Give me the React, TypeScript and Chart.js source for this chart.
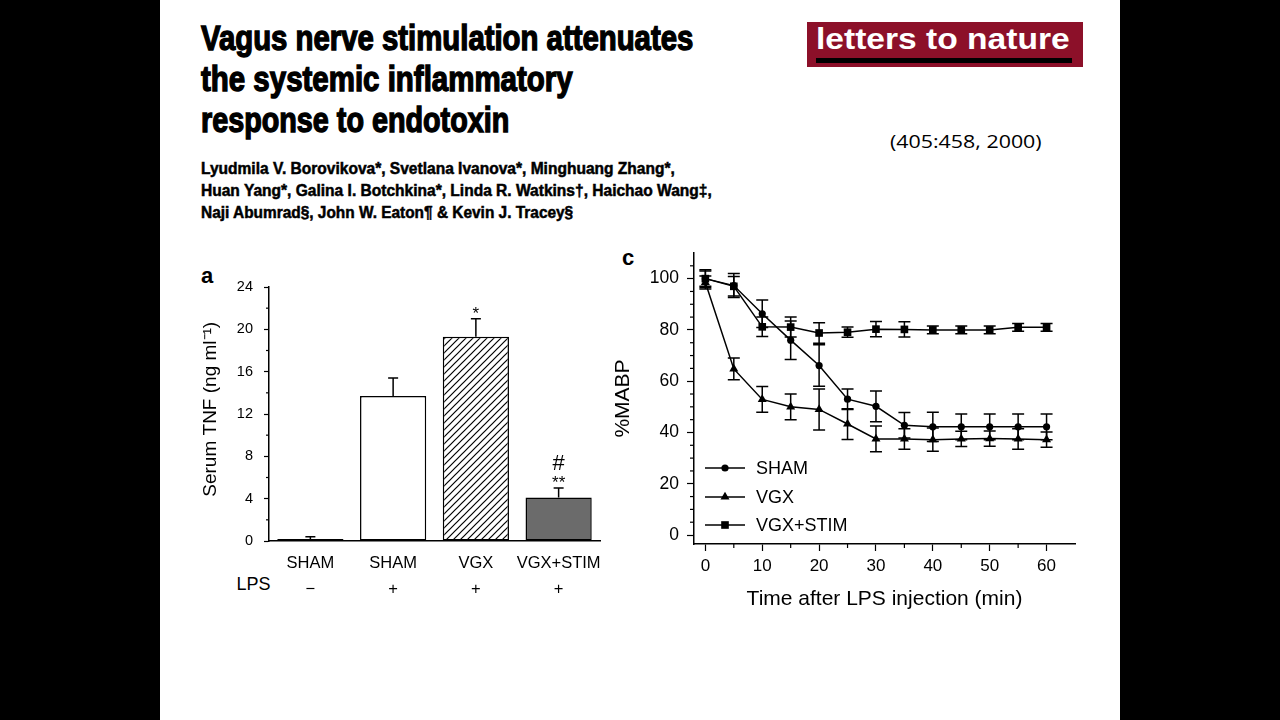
import React, { useEffect, useLayoutEffect, useRef, useState } from 'react';
import { Chart, registerables } from 'chart.js';

Chart.register(...registerables);

// ---------- Panel a : serum TNF ----------
const barCategories = ['SHAM', 'SHAM', 'VGX', 'VGX+STIM'];
const lpsSigns = ['\u2212', '+', '+', '+'];
const tnfMeans = [0.2, 13.7, 19.3, 4.1];
const tnfErrors = [0.2, 1.7, 1.7, 0.9];
const tnfStars = ['', '', '*', '**'];
const tnfHashes = ['', '', '', '#'];
const tnfMajorTicks = [0, 4, 8, 12, 16, 20, 24];
const tnfMinorTicks = [2, 6, 10, 14, 18, 22];

// ---------- Panel c : %MABP ----------
const timePoints = [0, 5, 10, 15, 20, 25, 30, 35, 40, 45, 50, 55, 60];
const shamMabp = [100, 97.3, 86.3, 76.0, 66.1, 53.0, 50.2, 42.8, 42.2, 42.2, 42.2, 42.2, 42.2];
const shamSem = [3.5, 4.7, 5.4, 7.5, 8.1, 4.0, 6.0, 5.0, 5.7, 5.0, 5.0, 5.0, 5.0];
const vgxMabp = [98.5, 64.8, 52.9, 50.0, 49.0, 43.3, 37.5, 37.5, 37.2, 37.5, 37.6, 37.5, 37.2];
const vgxSem = [2.5, 4.2, 5.0, 5.0, 8.0, 6.0, 5.0, 4.0, 4.5, 3.0, 3.0, 4.0, 3.0];
const stimMabp = [100, 97.0, 81.2, 81.1, 78.8, 79.1, 80.3, 80.2, 80.0, 80.0, 80.0, 81.0, 81.0];
const stimSem = [3.0, 3.8, 3.8, 3.9, 4.0, 2.0, 3.0, 3.0, 1.5, 1.5, 1.5, 1.5, 1.5];
const seriesLabels = ['SHAM', 'VGX', 'VGX+STIM'];
const mabpMajorTicks = [0, 20, 40, 60, 80, 100];
const mabpMinorTicks = [5, 10, 15, 25, 30, 35, 45, 50, 55, 65, 70, 75, 85, 90, 95, 105];
const timeMajorTicks = [0, 10, 20, 30, 40, 50, 60];
const timeMinorTicks = [5, 15, 25, 35, 45, 55];

// ---------- header texts ----------
const titleLines = [
  'Vagus nerve stimulation attenuates',
  'the systemic inflammatory',
  'response to endotoxin',
];
const authorLines = [
  'Lyudmila V. Borovikova*, Svetlana Ivanova*, Minghuang Zhang*,',
  'Huan Yang*, Galina I. Botchkina*, Linda R. Watkins\u2020, Haichao Wang\u2021,',
  'Naji Abumrad\u00a7, John W. Eaton\u00b6 & Kevin J. Tracey\u00a7',
];
const journalName = 'letters to nature';
const citation = '(405:458, 2000)';

const SANS = '"Liberation Sans", Arial, Helvetica, sans-serif';

function FitText(props: { text: string; left: number; top: number; width: number; style: React.CSSProperties }) {
  const ref = useRef<HTMLSpanElement>(null);
  const [scale, setScale] = useState(1);
  useLayoutEffect(() => {
    const el = ref.current;
    if (!el) return;
    const w = el.offsetWidth;
    if (w > 0) setScale(props.width / w);
  }, [props.text, props.width]);
  return (
    <span
      ref={ref}
      style={{
        position: 'absolute',
        left: props.left,
        top: props.top,
        whiteSpace: 'pre',
        display: 'inline-block',
        lineHeight: 1,
        transformOrigin: '0 0',
        transform: `scaleX(${scale})`,
        ...props.style,
      }}
    >
      {props.text}
    </span>
  );
}

function makeMinorTicks(cfg: { axis: string; values: number[]; length: number }[]) {
  return {
    id: 'minorTicks',
    afterDraw(chart: any) {
      const ctx = chart.ctx;
      ctx.save();
      ctx.strokeStyle = '#000';
      ctx.lineWidth = 1.2;
      for (const c of cfg) {
        const s = chart.scales[c.axis];
        for (const v of c.values) {
          if (v < s.min || v > s.max) continue;
          const p = s.getPixelForValue(v);
          ctx.beginPath();
          if (s.isHorizontal()) {
            ctx.moveTo(p, s.top);
            ctx.lineTo(p, s.top + c.length);
          } else {
            ctx.moveTo(s.right, p);
            ctx.lineTo(s.right - c.length, p);
          }
          ctx.stroke();
        }
      }
      ctx.restore();
    },
  };
}

function makeHatch(ctx: CanvasRenderingContext2D) {
  const pc = document.createElement('canvas');
  const n = 7;
  pc.width = n;
  pc.height = n;
  const p = pc.getContext('2d')!;
  p.fillStyle = '#fff';
  p.fillRect(0, 0, n, n);
  p.strokeStyle = '#000';
  p.lineWidth = 1.2;
  p.beginPath();
  p.moveTo(0, n);
  p.lineTo(n, 0);
  p.moveTo(-1, 1);
  p.lineTo(1, -1);
  p.moveTo(n - 1, n + 1);
  p.lineTo(n + 1, n - 1);
  p.stroke();
  return ctx.createPattern(pc, 'repeat');
}

const barExtras = {
  id: 'barExtras',
  afterDatasetsDraw(chart: any) {
    const ctx = chart.ctx;
    const y = chart.scales.y;
    const meta = chart.getDatasetMeta(0);
    ctx.save();
    ctx.strokeStyle = '#000';
    ctx.fillStyle = '#000';
    ctx.lineWidth = 1.5;
    meta.data.forEach((bar: any, i: number) => {
      const x = bar.x;
      const top = y.getPixelForValue(tnfMeans[i]);
      const errTop = y.getPixelForValue(tnfMeans[i] + tnfErrors[i]);
      ctx.beginPath();
      ctx.moveTo(x, top);
      ctx.lineTo(x, errTop);
      ctx.moveTo(x - 5, errTop);
      ctx.lineTo(x + 5, errTop);
      ctx.stroke();
      ctx.textAlign = 'center';
      ctx.textBaseline = 'alphabetic';
      if (tnfStars[i]) {
        ctx.font = `17px ${SANS}`;
        ctx.fillText(tnfStars[i], x, errTop - 10 + 0.575 * 17);
      }
      if (tnfHashes[i]) {
        ctx.font = `22px ${SANS}`;
        ctx.fillText(tnfHashes[i], x, errTop - 26 + 0.355 * 22);
      }
    });
    ctx.restore();
  },
};

function BarPanel() {
  const ref = useRef<HTMLCanvasElement>(null);
  useEffect(() => {
    const canvas = ref.current!;
    const ctx = canvas.getContext('2d')!;
    const hatch = makeHatch(ctx);
    const chart = new Chart(canvas, {
      type: 'bar',
      data: {
        labels: barCategories.map((c, i) => [c, lpsSigns[i]]),
        datasets: [
          {
            data: tnfMeans,
            backgroundColor: ['#000000', '#ffffff', hatch as any, '#6b6b6b'],
            borderColor: '#000',
            borderWidth: 1.5,
            borderSkipped: false,
            barPercentage: 0.8,
            categoryPercentage: 1,
          },
        ],
      },
      options: {
        responsive: false,
        animation: false,
        maintainAspectRatio: false,
        layout: { padding: { top: 37, right: 20, left: 0, bottom: 0 } },
        plugins: { legend: { display: false }, tooltip: { enabled: false } },
        scales: {
          x: {
            grid: { display: false, drawTicks: false },
            border: { display: true, color: '#000', width: 1.5 },
            ticks: {
              color: '#000',
              font: { family: SANS, size: 16.5, lineHeight: 1.6 },
              padding: 9,
              maxRotation: 0,
              autoSkip: false,
            },
            afterFit: (s: any) => {
              s.height = 79;
              s.paddingLeft = 0;
              s.paddingRight = 0;
            },
          },
          y: {
            min: 0,
            max: 24,
            afterBuildTicks: (s: any) => {
              s.ticks = tnfMajorTicks.map((v) => ({ value: v }));
            },
            grid: { display: true, drawOnChartArea: false, drawTicks: true, tickLength: 5, tickColor: '#000', tickWidth: 1.2 },
            border: { display: true, color: '#000', width: 1.5 },
            ticks: { color: '#000', font: { family: SANS, size: 14.5 }, padding: 11 },
            title: {
              display: true,
              text: '\u2002Serum TNF (ng ml\u207b\u00b9)',
              color: '#000',
              font: { family: SANS, size: 19 },
              padding: { top: 9, bottom: 0 },
            },
            afterFit: (s: any) => {
              s.width = 79;
              s.paddingTop = 0;
              s.paddingBottom = 0;
            },
          },
        },
      },
      plugins: [barExtras, makeMinorTicks([{ axis: 'y', values: tnfMinorTicks, length: 3 }])],
    });
    return () => chart.destroy();
  }, []);
  return (
    <canvas
      ref={ref}
      width={430}
      height={370}
      style={{ position: 'absolute', left: 190, top: 250, width: 430, height: 370 }}
    />
  );
}

function drawMarker(ctx: CanvasRenderingContext2D, style: string, x: number, y: number, r: number) {
  ctx.beginPath();
  if (style === 'circle') {
    ctx.arc(x, y, r, 0, Math.PI * 2);
  } else if (style === 'triangle') {
    let rad = 0;
    ctx.moveTo(x + Math.sin(rad) * r, y - Math.cos(rad) * r);
    rad += (2 * Math.PI) / 3;
    ctx.lineTo(x + Math.sin(rad) * r, y - Math.cos(rad) * r);
    rad += (2 * Math.PI) / 3;
    ctx.lineTo(x + Math.sin(rad) * r, y - Math.cos(rad) * r);
    ctx.closePath();
  } else {
    const s = r * Math.SQRT1_2;
    ctx.rect(x - s, y - s, 2 * s, 2 * s);
  }
  ctx.fill();
}

const lineErrors = [shamSem, vgxSem, stimSem];
const lineMeans = [shamMabp, vgxMabp, stimMabp];
const pointStyles = ['circle', 'triangle', 'rect'];
const pointRadii = [3.6, 5.2, 5.4];

const lineExtras = {
  id: 'lineExtras',
  beforeDatasetsDraw(chart: any) {
    const ctx = chart.ctx;
    const xs = chart.scales.x;
    const ys = chart.scales.y;
    ctx.save();
    ctx.strokeStyle = '#000';
    ctx.lineWidth = 1.5;
    lineMeans.forEach((arr, d) => {
      arr.forEach((v, i) => {
        const x = xs.getPixelForValue(timePoints[i]);
        const y1 = ys.getPixelForValue(v + lineErrors[d][i]);
        const y2 = ys.getPixelForValue(v - lineErrors[d][i]);
        ctx.beginPath();
        ctx.moveTo(x, y1);
        ctx.lineTo(x, y2);
        ctx.moveTo(x - 6, y1);
        ctx.lineTo(x + 6, y1);
        ctx.moveTo(x - 6, y2);
        ctx.lineTo(x + 6, y2);
        ctx.stroke();
      });
    });
    ctx.restore();
  },
  afterDraw(chart: any) {
    const ctx = chart.ctx;
    const area = chart.chartArea;
    const rows = [area.bottom - 76, area.bottom - 47, area.bottom - 19];
    ctx.save();
    ctx.strokeStyle = '#000';
    ctx.fillStyle = '#000';
    ctx.lineWidth = 1.5;
    ctx.font = `18px ${SANS}`;
    ctx.textBaseline = 'middle';
    ctx.textAlign = 'left';
    seriesLabels.forEach((label, i) => {
      const y = rows[i];
      const x0 = area.left + 11;
      ctx.beginPath();
      ctx.moveTo(x0, y);
      ctx.lineTo(x0 + 40, y);
      ctx.stroke();
      drawMarker(ctx, pointStyles[i], x0 + 20, y, pointRadii[i]);
      ctx.fillText(label, x0 + 51, y + 1);
    });
    ctx.restore();
  },
};

function LinePanel() {
  const ref = useRef<HTMLCanvasElement>(null);
  useEffect(() => {
    const canvas = ref.current!;
    const chart = new Chart(canvas, {
      type: 'line',
      data: {
        datasets: lineMeans.map((arr, d) => ({
          label: seriesLabels[d],
          data: arr.map((v, i) => ({ x: timePoints[i], y: v })),
          borderColor: '#000',
          backgroundColor: '#000',
          borderWidth: 1.5,
          pointStyle: pointStyles[d] as any,
          pointRadius: pointRadii[d],
          pointBackgroundColor: '#000',
          pointBorderColor: '#000',
          pointBorderWidth: 0,
          tension: 0,
          fill: false,
        })),
      },
      options: {
        responsive: false,
        animation: false,
        maintainAspectRatio: false,
        layout: { padding: { top: 13, right: 15, left: 0, bottom: 0 } },
        plugins: { legend: { display: false }, tooltip: { enabled: false } },
        scales: {
          x: {
            type: 'linear',
            min: -2,
            max: 65,
            afterBuildTicks: (s: any) => {
              s.ticks = timeMajorTicks.map((v) => ({ value: v }));
            },
            grid: { display: true, drawOnChartArea: false, drawTicks: true, tickLength: 7, tickColor: '#000', tickWidth: 1.2 },
            border: { display: true, color: '#000', width: 1.5 },
            ticks: { color: '#000', font: { family: SANS, size: 17 }, padding: 5, maxRotation: 0 },
            title: {
              display: true,
              text: 'Time after LPS injection (min)',
              color: '#000',
              font: { family: SANS, size: 21 },
              padding: { top: 0, bottom: 8 },
            },
            afterFit: (s: any) => {
              s.height = 76;
              s.paddingLeft = 0;
              s.paddingRight = 0;
            },
          },
          y: {
            min: -3.5,
            max: 110,
            afterBuildTicks: (s: any) => {
              s.ticks = mabpMajorTicks.map((v) => ({ value: v }));
            },
            grid: { display: true, drawOnChartArea: false, drawTicks: true, tickLength: 7, tickColor: '#000', tickWidth: 1.2 },
            border: { display: true, color: '#000', width: 1.5 },
            ticks: { color: '#000', font: { family: SANS, size: 17.5 }, padding: 8 },
            title: {
              display: true,
              text: '%MABP',
              color: '#000',
              font: { family: SANS, size: 21 },
              padding: { top: 11, bottom: 0 },
            },
            afterFit: (s: any) => {
              s.width = 94;
              s.paddingTop = 0;
              s.paddingBottom = 0;
            },
          },
        },
      },
      plugins: [
        lineExtras,
        makeMinorTicks([
          { axis: 'y', values: mabpMinorTicks, length: 4 },
          { axis: 'x', values: timeMinorTicks, length: 4 },
        ]),
      ],
    });
    return () => chart.destroy();
  }, []);
  return (
    <canvas
      ref={ref}
      width={490}
      height={380}
      style={{ position: 'absolute', left: 600, top: 240, width: 490, height: 380 }}
    />
  );
}

export default function App() {
  const titleTops = [19.5, 61, 102];
  const titleWidths = [492, 372, 308];
  const authorTops = [161, 183, 205];
  const authorWidths = [474, 511, 372];
  return (
    <div style={{ position: 'fixed', left: 0, top: 0, width: 1280, height: 720, background: '#000', overflow: 'hidden' }}>
      <div style={{ position: 'absolute', left: 160, top: 0, width: 960, height: 720, background: '#fff' }} />
      {titleLines.map((t, i) => (
        <FitText
          key={'t' + i}
          text={t}
          left={201}
          top={titleTops[i]}
          width={titleWidths[i]}
          style={{ fontFamily: SANS, fontWeight: 700, fontSize: 35, color: '#000', WebkitTextStroke: '1.4px #000' } as any}
        />
      ))}
      {authorLines.map((t, i) => (
        <FitText
          key={'a' + i}
          text={t}
          left={201}
          top={authorTops[i]}
          width={authorWidths[i]}
          style={{ fontFamily: SANS, fontWeight: 700, fontSize: 16, color: '#000', WebkitTextStroke: '0.5px #000' } as any}
        />
      ))}
      <div style={{ position: 'absolute', left: 807, top: 22, width: 276, height: 45, background: '#8c1029' }} />
      <FitText
        text={journalName}
        left={816}
        top={24}
        width={254}
        style={{ fontFamily: SANS, fontWeight: 700, fontSize: 30, color: '#fff' }}
      />
      <div style={{ position: 'absolute', left: 816, top: 58, width: 256, height: 5, background: '#000' }} />
      <FitText
        text={citation}
        left={890}
        top={132}
        width={152}
        style={{ fontFamily: '"Open Sans", "Noto Sans", sans-serif', fontSize: 19, color: '#000' }}
      />
      <span style={{ position: 'absolute', left: 201, top: 264.5, fontFamily: SANS, fontWeight: 700, fontSize: 22, lineHeight: 1, color: '#000' }}>a</span>
      <span style={{ position: 'absolute', left: 622, top: 246.5, fontFamily: SANS, fontWeight: 700, fontSize: 22, lineHeight: 1, color: '#000' }}>c</span>
      <span style={{ position: 'absolute', left: 236.5, top: 575, fontFamily: SANS, fontSize: 18, lineHeight: 1, color: '#000' }}>LPS</span>
      <BarPanel />
      <LinePanel />
    </div>
  );
}
